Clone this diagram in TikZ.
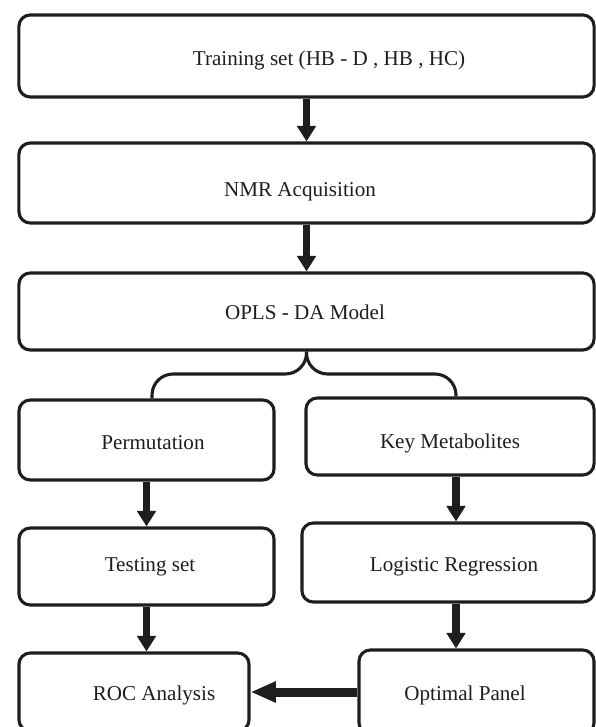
\documentclass[tikz,border=0pt]{standalone}
\usepackage{fontspec}
\setmainfont{Liberation Serif}
\usetikzlibrary{arrows.meta}
\definecolor{ink}{HTML}{1E1E1E}
\tikzset{
  box/.style  ={draw=ink, line width=2.2pt, fill=white,
                rounded corners=8pt, inner sep=0pt},
  lbl/.style  ={font=\fontsize{15}{18}\selectfont, text=ink, inner sep=0pt},
  ar/.style   ={-{Triangle[width=13pt,length=11pt]}, draw=ink,
                line width=5pt},
  arh/.style  ={-{Triangle[width=14pt,length=18pt]}, draw=ink,
                line width=6.4pt},
  brace/.style={draw=ink, line width=2.2pt, rounded corners=15pt}
}
\begin{document}
\begin{tikzpicture}[x=0.025cm, y=-0.025cm]
\useasboundingbox (0,0) rectangle (596,727);
\clip (0,0) rectangle (596,727);
% the boxes run off the right and bottom edges, as in the scan
\node[box, minimum width=14.375cm, minimum height=2.05cm] (train) at (306.5,56) {};
\node[box, minimum width=14.375cm, minimum height=2cm] (nmr) at (306.5,183) {};
\node[box, minimum width=14.375cm, minimum height=1.925cm] (opls) at (306.5,311.5) {};
\node[box, minimum width=6.375cm, minimum height=2cm] (perm) at (146.5,440) {};
\node[box, minimum width=7.2cm, minimum height=1.925cm] (km) at (450,436.5) {};
\node[box, minimum width=6.375cm, minimum height=1.925cm] (test) at (146.5,566.5) {};
\node[box, minimum width=7.3cm, minimum height=1.975cm] (lr) at (448,562.5) {};
\node[box, minimum width=5.75cm, minimum height=1.95cm] (roc) at (134,692) {};
\node[box, minimum width=5.875cm, minimum height=2.1cm] (op) at (476.5,692) {};

\node[lbl] (train-t) at (329,60) {Training set (HB - D , HB , HC)};
\node[lbl] (nmr-t) at (300,192) {NMR Acquisition};
\node[lbl] (opls-t) at (305,312) {OPLS - DA Model};
\node[lbl] (perm-t) at (153,443) {Permutation};
\node[lbl] (km-t) at (450,443) {Key Metabolites};
\node[lbl] (test-t) at (150,567) {Testing set};
\node[lbl] (lr-t) at (454,567) {Logistic Regression};
\node[lbl] (roc-t) at (154,695) {ROC Analysis};
\node[lbl] (op-t) at (465,695) {Optimal Panel};

\coordinate (bl) at (152,374);
\coordinate (br) at (456,374);
\coordinate (rcol) at (456,0);

\draw[ar] (train) -- (nmr);
\draw[ar] (nmr) -- (opls);
\draw[brace] (opls.south) |- (bl) -- (bl |- perm.north);
\draw[brace] (opls.south) |- (br) -- (br |- km.north);
\draw[ar] (perm) -- (test);
\draw[ar] (test) -- (test |- roc.north);
\draw[ar] (km.south -| rcol) -- (lr.north -| rcol);
\draw[ar] (lr.south -| rcol) -- (op.north -| rcol);
\draw[arh] (op) -- (roc);
\end{tikzpicture}
\end{document}
